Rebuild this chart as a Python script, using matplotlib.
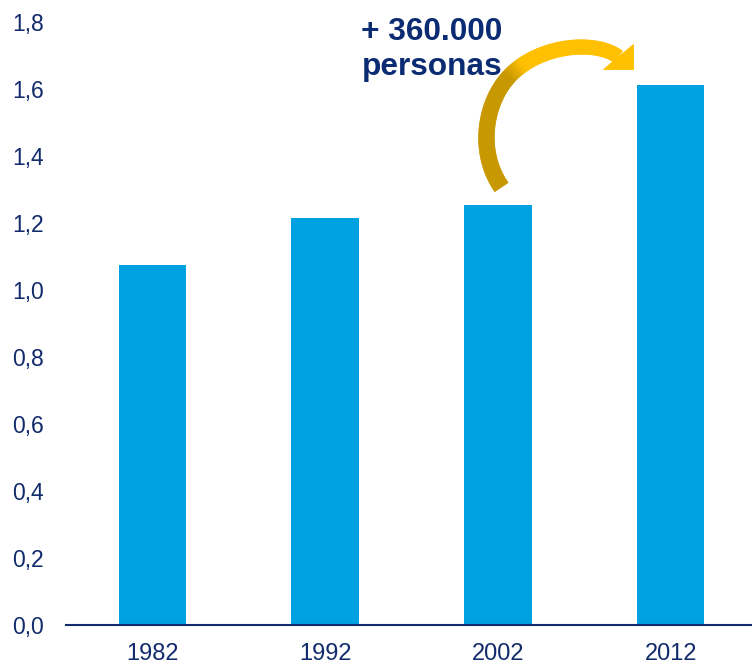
import numpy as np
import matplotlib
matplotlib.use("Agg")
import matplotlib.pyplot as plt
from matplotlib.patches import Polygon
from matplotlib.transforms import IdentityTransform
from matplotlib.colors import to_rgb

plt.rcParams['font.family'] = ['Liberation Sans', 'DejaVu Sans']

years = ['1982', '1992', '2002', '2012']
values = [1.075, 1.215, 1.255, 1.613]
yticks = [0.0, 0.2, 0.4, 0.6, 0.8, 1.0, 1.2, 1.4, 1.6, 1.8]
ytick_labels = ['0,0', '0,2', '0,4', '0,6', '0,8', '1,0', '1,2', '1,4', '1,6', '1,8']
note_lines = ['+ 360.000', 'personas']

bar_color = '#00A1E0'
navy = '#112B6B'
note_color = '#0B2C72'
dark_gold = '#C89800'
bright_gold = '#FFC000'

fig = plt.figure(figsize=(7.52, 6.65), dpi=100)
ax = fig.add_axes([0.0878, 0.0602, 0.919, 0.9068])

x = np.arange(len(years))
ax.bar(x, values, width=0.39, color=bar_color, zorder=1)

ax.set_xlim(-0.5, 3.5)
ax.set_ylim(0, 1.8)
ax.set_xticks(x)
ax.set_xticklabels(years)
ax.set_yticks(yticks)
ax.set_yticklabels(ytick_labels)
ax.tick_params(axis='both', length=0, colors=navy)
ax.tick_params(axis='y', pad=16, labelsize=16.5)
ax.tick_params(axis='x', pad=13, labelsize=17)
for s in ['top', 'right', 'left']:
    ax.spines[s].set_visible(False)
ax.spines['bottom'].set_color(navy)
ax.spines['bottom'].set_linewidth(1.5)

# annotation text
ax.text(1.21, 1.746, note_lines[0], fontsize=22.8, fontweight='bold',
        color=note_color, va='baseline', ha='left', clip_on=False)
ax.text(1.21, 1.642, note_lines[1], fontsize=22.8, fontweight='bold',
        color=note_color, va='baseline', ha='left', clip_on=False)

# curved arrow from 2002 to 2012 (control points in data coords)
segA = [(2.02, values[2] + 0.052), (1.869, 1.418), (1.927, 1.582), (2.105, 1.657)]
segB = [(2.105, 1.657), (2.274, 1.731), (2.564, 1.746), (2.697, values[3] + 0.083)]


def bezier(pts, n=60):
    p = np.array(pts)
    t = np.linspace(0, 1, n)[:, None]
    return ((1 - t) ** 3 * p[0] + 3 * (1 - t) ** 2 * t * p[1]
            + 3 * (1 - t) * t ** 2 * p[2] + t ** 3 * p[3])


trans = ax.transData
ca = trans.transform(bezier(segA))
cb = trans.transform(bezier(segB))
curve = np.vstack([ca, cb[1:]])
n = len(curve)
s = np.linspace(0, 1, n)

tang = np.gradient(curve, axis=0)
tang /= np.linalg.norm(tang, axis=1)[:, None]
norm = np.column_stack([-tang[:, 1], tang[:, 0]])
width = 16 - 2.0 * s
left = curve + norm * (width / 2)[:, None]
right = curve - norm * (width / 2)[:, None]

c0 = np.array(to_rgb(dark_gold))
c1 = np.array(to_rgb(bright_gold))
for i in range(n - 1):
    sm = (s[i] + s[i + 1]) / 2
    f = np.clip((sm - 0.46) / 0.08, 0, 1)
    col = c0 * (1 - f) + c1 * f
    quad = [left[i], left[i + 1], right[i + 1], right[i]]
    fig.patches.append(Polygon(quad, closed=True, facecolor=col, edgecolor=col,
                               linewidth=0.6, transform=IdentityTransform(),
                               figure=fig))

# right-angled arrow head, tip pointing down-right
end = curve[-1]
head = [end + np.array([15.0, 13.0]), end + np.array([15.0, -12.0]),
        end + np.array([-15.0, -12.0])]
fig.patches.append(Polygon(head, closed=True, facecolor=bright_gold,
                           edgecolor=bright_gold, linewidth=0.6,
                           transform=IdentityTransform(), figure=fig))

fig.savefig('out.png', dpi=100)
